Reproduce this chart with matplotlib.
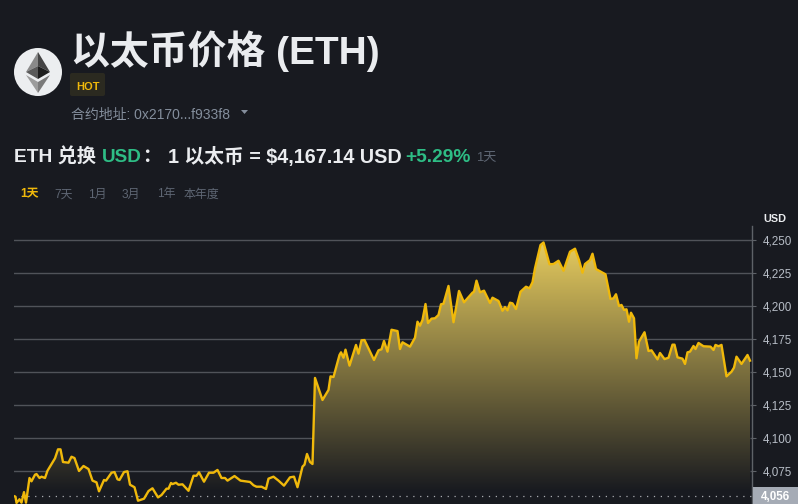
import numpy as np
import matplotlib
matplotlib.use('Agg')
import matplotlib.pyplot as plt
from matplotlib.colors import LinearSegmentedColormap
from matplotlib.patches import Circle, Polygon, Rectangle, FancyBboxPatch

plt.rcParams['font.family'] = ['Liberation Sans', 'Noto Sans CJK SC', 'DejaVu Sans']

minutes = [
 0,3,5,11,15,20,24,31,35,42,
 45,51,55,62,67,82,88,93,98,109,
 115,121,130,139,149,157,165,170,180,184,
 195,201,207,211,220,227,232,241,248,260,
 269,277,288,295,305,309,314,317,324,329,
 337,349,359,365,370,380,390,399,407,415,
 422,427,441,453,472,479,485,495,504,509,
 519,529,540,552,560,567,577,581,586,592,
 597,602,617,629,633,639,651,654,659,663,
 671,684,689,695,701,720,729,735,740,747,
 755,767,772,777,792,802,807,812,817,823,
 828,835,842,849,854,859,869,879,890,900,
 917,920,925,932,940,952,957,969,977,982,
 987,992,997,1004,1013,1024,1031,1037,1042,1053,
 1059,1071,1079,1089,1099,1112,1122,1130,1137,1142,
 1152,1157,1164,1183,1193,1199,1204,1210,1215,1220,
 1225,1230,1234,1240,1245,1250,1261,1269,1275,1287,
 1292,1301,1309,1317,1321,1327,1337,1342,1347,1352,
 1359,1363,1369,1379,1393,1399,1403,1409,1415,1425,
 1435,1440,1445,1455,1467,1472]
prices = [
 4056,4055.5,4050.8,4053.6,4051,4059,4051,4069.7,4067.2,4072.2,
 4072.7,4069.7,4070.7,4069.7,4075.2,4084.6,4091.4,4091.4,4081.8,4081.3,
 4085.8,4084.8,4075,4078.8,4076.5,4067.7,4066.4,4059.6,4068.2,4067.7,
 4073.7,4074.2,4068.7,4068.2,4074.2,4074.8,4064.6,4062.7,4052.5,4054,
 4059.8,4061.9,4055,4056.8,4061.6,4061.6,4065.9,4065.1,4066.1,4064.6,
 4064.9,4060,4071.4,4071.4,4074,4066.9,4073.7,4073.7,4075.8,4069.7,
 4069.7,4067.7,4071.2,4067.7,4066.7,4064.2,4063.1,4063.1,4061.4,4069.2,
 4070.7,4067.7,4063.9,4070.2,4070.7,4062.7,4078.3,4079.8,4087.9,4081.8,
 4080.3,4145.5,4128.8,4136.4,4146.7,4146.2,4162.9,4164.9,4160.8,4166.9,
 4154.8,4170.5,4163.9,4174,4174.2,4159.1,4166.4,4167.2,4173.5,4165.4,
 4182,4181,4167.4,4172.5,4169.2,4176,4188.1,4185.1,4189.4,4201.5,
 4187.1,4190.4,4190.7,4193.2,4201.3,4201.7,4215.2,4187.7,4211.4,4202.8,
 4210.1,4210.8,4219.2,4210.4,4211.6,4202.3,4206.3,4203.8,4196.4,4199.2,
 4196.7,4202.5,4202,4197.7,4210.8,4214.6,4213.4,4218,4228.6,4246.2,
 4248.1,4231.6,4231.8,4234.3,4226.7,4241.1,4243.4,4234.8,4225.2,4231.8,
 4234.8,4239.6,4228,4224,4205.3,4205.8,4208.9,4200,4200.8,4197,
 4197.5,4188.1,4194.9,4190.7,4160.4,4173,4180.1,4165.9,4166.4,4159.6,
 4164.4,4159.8,4160.8,4170.7,4170.7,4161.1,4160.1,4156.1,4164.9,4165.4,
 4169.7,4167.4,4172,4169.5,4169.2,4166.7,4170.5,4169.5,4170.5,4146.7,
 4150.2,4153.3,4161.6,4156.1,4162.9,4158.6]
y_ticks = [4075, 4100, 4125, 4150, 4175, 4200, 4225, 4250]
open_price = 4056

BG = '#181a20'
W, H = 798, 504
fig = plt.figure(figsize=(W / 100, H / 100), dpi=100, facecolor=BG)

# price chart
L, R, T, B = 14, 752, 226, 504
ax = fig.add_axes([L / W, 1 - B / H, (R - L) / W, (B - T) / H], facecolor=BG)
for s in ['top', 'left', 'bottom']:
    ax.spines[s].set_visible(False)
ax.spines['right'].set_color('#5e6268')
ax.spines['right'].set_linewidth(1)
ax.yaxis.tick_right()
ax.set_yticks(y_ticks)
ax.set_yticklabels([f'{v:,}' for v in y_ticks], fontsize=8.4, color='#b7bdc6')
ax.tick_params(axis='y', length=3, width=0.8, color='#5e6268', pad=5)
ax.set_xticks([])
ax.grid(axis='y', color='#505359', lw=1, zorder=1)
ax.set_axisbelow(True)

ax.fill_between(minutes, prices, 4050, color=BG, lw=0, zorder=1.5)
cmap = LinearSegmentedColormap.from_list('g', [BG, '#e8cd5f'])
grad = np.linspace(1, 0, 256).reshape(-1, 1)
im = ax.imshow(grad, cmap=cmap, aspect='auto', vmin=0, vmax=1, zorder=2,
               extent=[0, max(minutes), open_price + 3, 4250])
clip = Polygon(list(zip(minutes, prices)) + [(max(minutes), 4050), (0, 4050)], closed=True,
               transform=ax.transData, fc='none', ec='none')
ax.add_patch(clip)
im.set_clip_path(clip)
ax.set_xlim(0, (R - L) * 2)
ax.set_ylim(4050, 4260.6)
ax.plot(minutes, prices, color='#f0b90b', lw=1.7, zorder=4, solid_joinstyle='round')
ax.axhline(open_price, color='#a8abb0', lw=0.9, ls=(0, (1, 4.5)), zorder=3)

# header overlay, in picture pixels
ov = fig.add_axes([0, 0, 1, 1], facecolor='none')
ov.set_xlim(0, W)
ov.set_ylim(H, 0)
ov.axis('off')

ov.add_patch(Circle((38, 72), 24, fc='#eceef0', ec='none'))
ov.add_patch(Polygon([(38, 52), (26, 72), (38, 66)], fc='#8a8a8a', ec='none'))
ov.add_patch(Polygon([(38, 52), (50, 72), (38, 66)], fc='#454545', ec='none'))
ov.add_patch(Polygon([(26, 72), (38, 66), (38, 79)], fc='#5a5a5a', ec='none'))
ov.add_patch(Polygon([(50, 72), (38, 66), (38, 79)], fc='#1e1e1e', ec='none'))
ov.add_patch(Polygon([(26, 75), (38, 82), (38, 93)], fc='#9c9c9c', ec='none'))
ov.add_patch(Polygon([(50, 75), (38, 82), (38, 93)], fc='#7a7a7a', ec='none'))

def label(x, y, s, size, color, weight='normal', ha='left'):
    ov.text(x, y, s, fontsize=size, color=color, fontweight=weight, ha=ha, va='center_baseline')

label(71, 47, '以太币价格 (ETH)', 28, '#eaecef', 'bold')
ov.add_patch(FancyBboxPatch((70, 73), 35, 23, boxstyle='round,pad=0,rounding_size=2', fc='#2b2a20', ec='none'))
label(76, 86, 'HOT', 8, '#f0b90b', 'bold')
label(71, 113, '合约地址: 0x2170...f933f8', 10, '#848e9c')
ov.add_patch(Polygon([(241, 110), (248, 110), (244.5, 114)], fc='#848e9c', ec='none'))

label(14, 155, 'ETH 兑换', 13.8, '#eaecef', 'bold')
label(102, 155, 'USD', 13.6, '#2ebd85', 'bold')
label(142, 155, '：', 13.6, '#eaecef', 'bold')
label(168, 155, '1 以太币 = $4,167.14 USD', 14.2, '#eaecef', 'bold')
label(405, 155, '+5.29%', 13.8, '#2ebd85', 'bold')
label(476, 157, '1天', 9.4, '#5e6673')

label(20, 193, '1天', 8.6, '#f0b90b', 'bold')
for x, s in zip([54, 88, 122, 157, 184], ['7天', '1月', '3月', '1年', '本年度']):
    label(x, 193, s, 8.6, '#5e6673')

label(763, 218, 'USD', 7.8, '#eaecef', 'bold')
ov.add_patch(Rectangle((753, 487), 45, 17, fc='#a5abb5', ec='none'))
label(761, 496, f'{open_price:,}', 8.4, '#ffffff', 'bold')

fig.savefig('out.png', dpi=100, facecolor=BG)
